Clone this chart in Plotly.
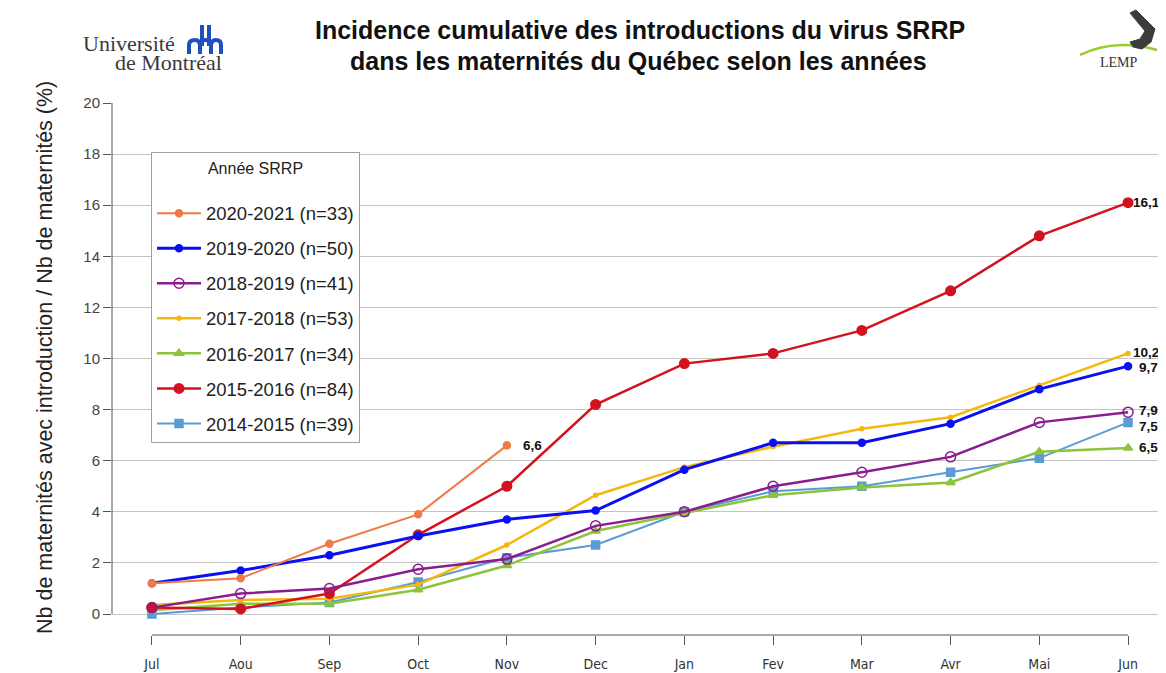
import plotly.graph_objects as go

# ---------------- data ----------------
months = ["Jul", "Aou", "Sep", "Oct", "Nov", "Dec", "Jan", "Fev", "Mar", "Avr", "Mai", "Jun"]

s2020_2021 = [1.2, 1.4, 2.75, 3.9, 6.6]
s2019_2020 = [1.2, 1.7, 2.3, 3.05, 3.7, 4.05, 5.65, 6.7, 6.7, 7.45, 8.8, 9.7]
s2018_2019 = [0.25, 0.8, 1.0, 1.75, 2.15, 3.45, 4.0, 5.0, 5.55, 6.15, 7.5, 7.9]
s2017_2018 = [0.35, 0.55, 0.6, 1.15, 2.7, 4.65, 5.75, 6.55, 7.25, 7.7, 8.95, 10.2]
s2016_2017 = [0.15, 0.4, 0.4, 0.95, 1.9, 3.25, 3.95, 4.65, 4.95, 5.15, 6.35, 6.5]
s2015_2016 = [0.25, 0.2, 0.8, 3.1, 5.0, 8.2, 9.8, 10.2, 11.1, 12.65, 14.8, 16.1]
s2014_2015 = [0.0, 0.25, 0.45, 1.25, 2.2, 2.7, 4.0, 4.8, 5.0, 5.55, 6.1, 7.5]

series_names = ["2020-2021 (n=33)", "2019-2020 (n=50)", "2018-2019 (n=41)",
                "2017-2018 (n=53)", "2016-2017 (n=34)", "2015-2016 (n=84)",
                "2014-2015 (n=39)"]
series_values = [s2020_2021, s2019_2020, s2018_2019, s2017_2018,
                 s2016_2017, s2015_2016, s2014_2015]

yticks = [0, 2, 4, 6, 8, 10, 12, 14, 16, 18, 20]

# ---------------- styles ----------------
styles = {
    "2020-2021 (n=33)": dict(color="#F07A45", width=2, symbol="circle", size=7),
    "2019-2020 (n=50)": dict(color="#0B10F2", width=3, symbol="circle", size=7),
    "2018-2019 (n=41)": dict(color="#8A1C8E", width=2.5, symbol="circle-open", size=10),
    "2017-2018 (n=53)": dict(color="#F5B70C", width=2.5, symbol="circle", size=4),
    "2016-2017 (n=34)": dict(color="#8CC43C", width=2.5, symbol="triangle-up", size=8),
    "2015-2016 (n=84)": dict(color="#D3121F", width=2.5, symbol="circle", size=9.5),
    "2014-2015 (n=39)": dict(color="#5B9BD5", width=2, symbol="square", size=8),
}
draw_order = [6, 4, 3, 5, 2, 1, 0]  # bottom -> top

# page geometry (the page body has an 8px margin)
OFF = 8
W, H = 1166 - OFF, 673 - OFF
ML, MR, MT, MB = 112 - OFF, 6, 103 - OFF, 38
PW, PH = W - ML - MR, H - MT - MB


def px(x):  # page pixel x -> paper
    return (x - OFF - ML) / PW


def py(y):  # page pixel y -> paper
    return (H + OFF - MB - y) / PH


SANS = "Liberation Sans, Arial, sans-serif"
SERIF = "Liberation Serif, Times New Roman, serif"

fig = go.Figure()
for i in draw_order:
    name = series_names[i]
    vals = series_values[i]
    st = styles[name]
    fig.add_trace(go.Scatter(
        x=months[:len(vals)], y=vals, name=name, mode="lines+markers",
        legendgroup=name, legendrank=i + 1,
        line=dict(color=st["color"], width=st["width"]),
        marker=dict(symbol=st["symbol"], size=st["size"], color=st["color"],
                    line=dict(color=st["color"], width=1.5)),
    ))

# end-of-line value labels
label_shift = {
    "2020-2021 (n=33)": (14, 0),
    "2019-2020 (n=50)": (9, -1),
    "2018-2019 (n=41)": (9, 2),
    "2017-2018 (n=53)": (3, 1),
    "2016-2017 (n=34)": (9, 0),
    "2015-2016 (n=84)": (3, 0),
    "2014-2015 (n=39)": (9, -4),
}
for name, vals in zip(series_names, series_values):
    dx, dy = label_shift[name]
    fig.add_annotation(
        x=len(vals) - 1, y=vals[-1], xref="x", yref="y",
        text=f"{vals[-1]:.1f}".replace(".", ","), showarrow=False,
        xanchor="left", yanchor="middle", xshift=dx, yshift=dy,
        font=dict(family=SANS, size=13.5, color="#111111", weight="bold"),
    )

# R-style axis lines
fig.add_shape(type="line", xref="paper", yref="y", x0=0, x1=0, y0=yticks[0], y1=yticks[-1],
              line=dict(color="#555555", width=1))
fig.add_shape(type="line", xref="x", yref="paper", x0=0, x1=len(months) - 1, y0=0, y1=0,
              line=dict(color="#555555", width=1))

# titles
title_font = dict(family=SANS, size=25, color="#111111", weight="bold")
fig.add_annotation(x=px(640), y=py(30), xref="paper", yref="paper", showarrow=False,
                   text="Incidence cumulative des introductions du virus SRRP", font=title_font,
                   xanchor="center", yanchor="middle")
fig.add_annotation(x=px(638), y=py(61), xref="paper", yref="paper", showarrow=False,
                   text="dans les maternités du Québec selon les années", font=title_font,
                   xanchor="center", yanchor="middle")

# y axis title
fig.add_annotation(x=px(45), y=py(358), xref="paper", yref="paper", showarrow=False,
                   text="Nb de maternités avec introduction / Nb de maternités (%)",
                   textangle=-90, xanchor="center", yanchor="middle",
                   font=dict(family=SANS, size=21.5, color="#222222"))

# Université de Montréal logo (text + simple icon)
serif = dict(family=SERIF, size=22, color="#3A3A3A")
fig.add_annotation(x=px(176), y=py(43), xref="paper", yref="paper", showarrow=False,
                   text="Université", font=serif, xanchor="right", yanchor="middle",
                   borderpad=0)
fig.add_annotation(x=px(223), y=py(63), xref="paper", yref="paper", showarrow=False,
                   text="de Montréal", font=serif, xanchor="right", yanchor="middle",
                   borderpad=0)


def ppath(cmds):
    out = []
    for c in cmds:
        out.append(c if isinstance(c, str) else f"{px(c[0]):.5f},{py(c[1]):.5f}")
    return " ".join(out)


icon = ppath(["M", (202, 25), "L", (202, 46), "M", (209, 25), "L", (209, 46),
              "M", (189, 54), "L", (189, 45), "Q", (189, 40), (195, 40), "Q", (200, 40), (200, 46), "L", (200, 54),
              "M", (200, 46), "Q", (200, 40), (205.5, 40), "Q", (211, 40), (211, 46), "L", (211, 54),
              "M", (211, 46), "Q", (211, 40), (216, 40), "Q", (221, 40), (221, 45), "L", (221, 54)])
fig.add_shape(type="path", xref="paper", yref="paper", path=icon,
              line=dict(color="#1F4FC0", width=4))

# LEMP logo
fig.add_annotation(x=px(1119), y=py(63), xref="paper", yref="paper", showarrow=False,
                   text="LEMP", xanchor="center", yanchor="middle",
                   font=dict(family=SERIF, size=14, color="#333333"))
arc = ppath(["M", (1080, 55), "Q", (1115, 38), (1157, 50)])
fig.add_shape(type="path", xref="paper", yref="paper", path=arc,
              line=dict(color="#9BCB2E", width=2.5))
hook = ppath(["M", (1130, 13), "L", (1136, 10), "L", (1155, 29), "L", (1151, 42),
              "L", (1142, 49), "L", (1133, 47), "L", (1130, 42), "L", (1140, 39),
              "L", (1145, 31), "Z"])
fig.add_shape(type="path", xref="paper", yref="paper", path=hook,
              fillcolor="#3C3C3C", line=dict(color="#3C3C3C", width=1))

fig.update_layout(
    width=W, height=H,
    margin=dict(l=ML, r=MR, t=MT, b=MB, autoexpand=False),
    paper_bgcolor="white", plot_bgcolor="white",
    showlegend=True,
    legend=dict(
        x=px(151), y=py(152), xanchor="left", yanchor="top",
        bgcolor="white", bordercolor="#A0A0A0", borderwidth=1,
        traceorder="grouped", tracegroupgap=8, itemwidth=44,
        font=dict(family=SANS, size=18.5, color="#222222"),
        title=dict(text="Année SRRP<br> ", side="top center",
                   font=dict(family=SANS, size=16, color="#222222")),
    ),
    xaxis=dict(
        type="category", range=[-0.45, 11.36],
        showgrid=False, zeroline=False, showline=False,
        ticks="outside", ticklen=9, tickcolor="#555555", tickwidth=1,
        ticklabelstandoff=7,
        tickfont=dict(family="Liberation Sans Narrow, DejaVu Sans Condensed, Arial Narrow, sans-serif",
                      size=14, color="#333333"),
    ),
    yaxis=dict(
        range=[-(635 - 614) / 25.55, 20], tickvals=yticks,
        showgrid=True, gridcolor="#C4C4C4", gridwidth=1,
        zeroline=False, showline=False,
        ticks="outside", ticklen=8, tickcolor="#555555", tickwidth=1,
        tickfont=dict(family=SANS, size=15, color="#444444"),
    ),
)

fig.write_html("out.html")
